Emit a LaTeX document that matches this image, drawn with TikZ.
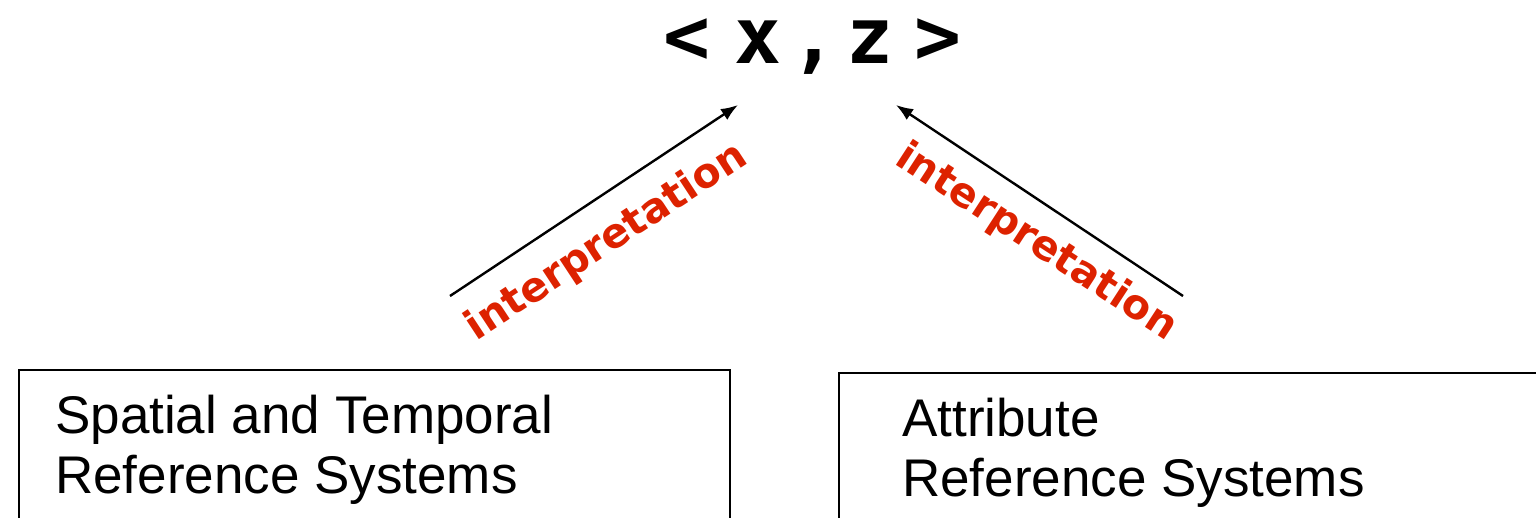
\documentclass[tikz,border=0pt]{standalone}
\usepackage{fontspec}
\setmainfont{Liberation Sans}
\newfontfamily\labelfont{DejaVu Sans Bold}
\newfontfamily\tuplefont{DejaVu Sans Mono Bold}
\usetikzlibrary{arrows.meta}
\definecolor{interpred}{RGB}{221,34,0}

\begin{document}
\begin{tikzpicture}[x=1pt,y=-1pt,
    refbox/.style={draw,line width=2.2pt,inner sep=0pt,anchor=north west},
    boxtext/.style={inner sep=0pt,align=left,anchor=base west,
      font=\fontsize{53}{60}\selectfont},
    conn/.style={line width=2.4pt,-{Latex[length=17pt,width=13pt]}},
    ilabel/.style={inner sep=0pt,anchor=base,text=interpred,
      font=\labelfont\fontsize{41}{48}\selectfont}]
  \path[use as bounding box] (0,0) rectangle (1536,517);
  \clip (0,0) rectangle (1536,517);

  % the pair on top
  \node[inner sep=0pt,anchor=base,font=\tuplefont\fontsize{78}{90}\selectfont]
    (tuple) at (812.5,63) {<\hspace{24pt}x\hspace{9pt},\hspace{9pt}z\hspace{21pt}>};

  % the two reference system boxes
  \node[refbox,minimum width=711pt,minimum height=220pt] (spatialbox) at (18,369) {};
  \node[boxtext] (spatialtext) at (55,493) {Spatial and Temporal\\Reference Systems};
  \node[refbox,minimum width=760pt,minimum height=220pt] (attrbox) at (838,372) {};
  \node[boxtext] (attrtext) at (902,496) {Attribute\\Reference Systems};

  % interpretation arrows
  \coordinate (leftfoot) at (450,296);
  \coordinate (lefttip) at (738,105);
  \coordinate (rightfoot) at (1183,296);
  \coordinate (righttip) at (896,105);
  \draw[conn] (leftfoot) -- (lefttip);
  \draw[conn] (rightfoot) -- (righttip);
  \node[ilabel,rotate=33.3] (leftlabel) at (613,252) {interpretation};
  \node[ilabel,rotate=-33] (rightlabel) at (1030,252) {interpretation};
\end{tikzpicture}
\end{document}
